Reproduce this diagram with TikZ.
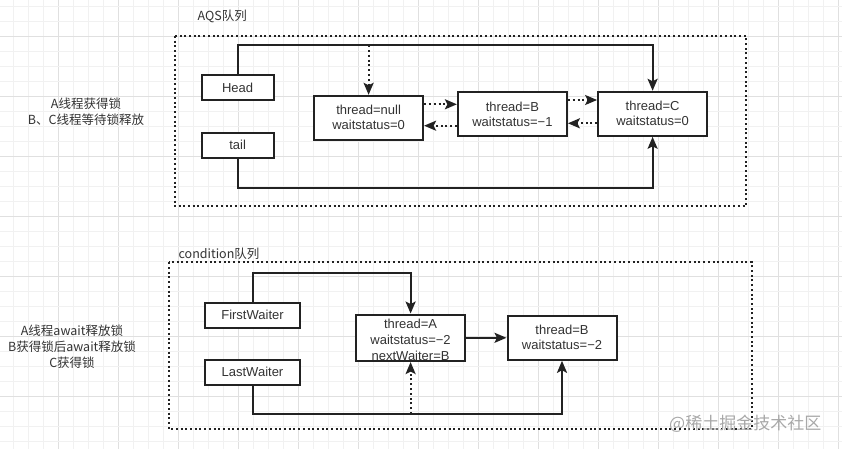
\documentclass[tikz,border=0pt]{standalone}
\usepackage{fontspec}
\setmainfont{Liberation Sans}
\newfontfamily\cjk{Noto Sans CJK SC}
\usetikzlibrary{arrows.meta}
\definecolor{ink}{HTML}{222222}
\definecolor{txt}{HTML}{333333}
\definecolor{gridl}{HTML}{F1F1F1}
\definecolor{gridh}{HTML}{E0E0E0}
\definecolor{wm}{HTML}{A8A8A8}
\begin{document}
\begin{tikzpicture}[x=1pt,y=-1pt,
 box/.style={draw=ink,line width=2pt,fill=white,minimum width=109pt,minimum height=44pt,inner sep=0pt,align=center,font=\fontsize{13}{15}\selectfont,text=txt},
 ptr/.style={box,minimum width=72pt,minimum height=25pt},
 wptr/.style={box,minimum width=95pt,minimum height=25pt},
 conn/.style={draw=ink,line width=2pt},
 arr/.style={conn,-{Stealth[length=12pt,width=10pt,inset=2.5pt]}},
 dotarr/.style={arr,dash pattern=on 2pt off 2.8pt},
 frame/.style={draw=ink,line width=2pt,dash pattern=on 2pt off 2.7pt},
 lbl/.style={font=\cjk\fontsize{12.5}{16.5}\selectfont,text=txt,align=center,inner sep=0pt}]
\useasboundingbox (0,0) rectangle (842,449);
\fill[white] (0,0) rectangle (842,449);
% grid
\foreach \k in {0,...,55}{
  \pgfmathtruncatemacro{\m}{mod(\k,4)}
  \ifnum\m=3 \draw[gridh,line width=0.8pt] (13.3+15*\k,0) -- (13.3+15*\k,449);
  \else \draw[gridl,line width=0.7pt] (13.3+15*\k,0) -- (13.3+15*\k,449); \fi}
\foreach \k in {0,...,29}{
  \pgfmathtruncatemacro{\m}{mod(\k,4)}
  \ifnum\m=2 \draw[gridh,line width=0.8pt] (0,6.7+15*\k) -- (842,6.7+15*\k);
  \else \draw[gridl,line width=0.7pt] (0,6.7+15*\k) -- (842,6.7+15*\k); \fi}

% ---------- AQS queue ----------
\node[lbl,anchor=west] (aqsT) at (197.5,16.7) {AQS队列};
\draw[frame] (174.6,36) rectangle (746,206);
\node[lbl] (aqsL) at (86,111.7) {A线程获得锁\\B、C线程等待锁释放};

\node[ptr] (head) at (237.6,87.5) {Head};
\node[ptr] (tail) at (237.6,145.2) {tail};
\node[box] (n0) at (368.6,117.8) {thread=null\\waitstatus=0};
\node[box] (nB) at (512.4,114.2) {thread=B\\waitstatus=−1};
\node[box] (nC) at (652.6,113.8) {thread=C\\waitstatus=0};

\draw[arr] (head.north) -- (head.north |- 0,45.3) -| (nC.north);
\draw[dotarr] (n0.north |- 0,45.3) -- (n0.north);
\draw[arr] (tail.south) -- (tail.south |- 0,188.3) -| (nC.south);

\draw[dotarr] (n0.east |- 0,104.3) -- (nB.west |- 0,104.3);
\draw[dotarr] (nB.west |- 0,125.7) -- (n0.east |- 0,125.7);
\draw[dotarr] (nB.east |- 0,100) -- (nC.west |- 0,100);
\draw[dotarr] (nC.west |- 0,123.3) -- (nB.east |- 0,123.3);

% ---------- condition queue ----------
\node[lbl,anchor=west] (condT) at (178.4,253.3) {condition队列};
\draw[frame] (169,262.3) rectangle (751.8,429.3);
\node[lbl,font=\cjk\fontsize{12.5}{15.8}\selectfont] (condL) at (72,346.6) {A线程await释放锁\\B获得锁后await释放锁\\C获得锁};

\node[wptr] (fw) at (252.5,315.3) {FirstWaiter};
\node[wptr] (lw) at (252.5,372) {LastWaiter};
\node[box,font=\fontsize{13}{16}\selectfont] (wA) at (410.6,337.8) {\mbox{}\\[-1.6pt]thread=A\\waitstatus=−2\\nextWaiter=B};
\node[box] (wB) at (562,337.8) {thread=B\\waitstatus=−2};

\draw[arr] (fw.north) -- (fw.north |- 0,273.3) -| (wA.north);
\draw[arr] (lw.south) -- (lw.south |- 0,414) -| (wB.south);
\draw[dotarr] (wA.south |- 0,414) -- (wA.south);
\draw[arr] (wA.east) -- (wB.west);

% watermark
\node[anchor=west,font=\cjk\fontsize{17}{20}\selectfont,text=wm,inner sep=0pt] (wmark) at (669,423.3) {@稀土掘金技术社区};
\end{tikzpicture}
\end{document}
